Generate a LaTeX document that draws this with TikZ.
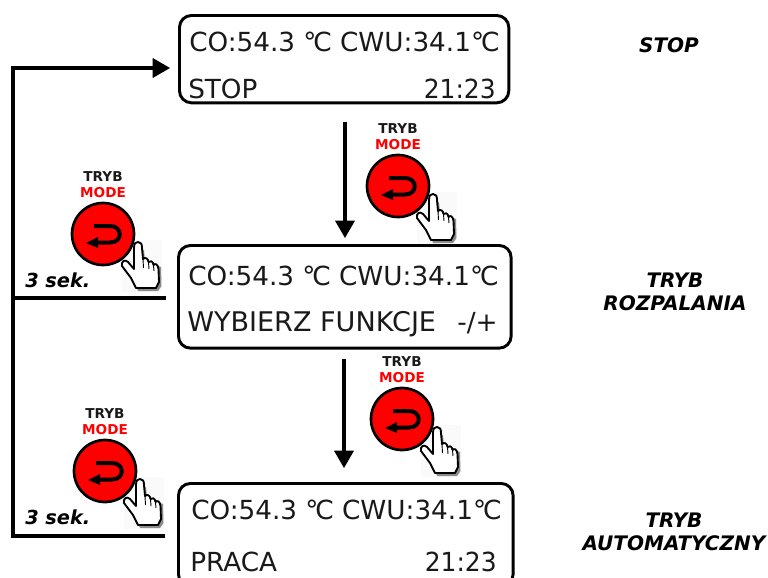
\documentclass[tikz,border=0pt]{standalone}
\usepackage{fontspec}
\setmainfont{DejaVu Sans}
\usetikzlibrary{arrows.meta}
\tikzset{
  lcd/.style={draw=black,line width=2.2pt,rounded corners=9pt,fill=white,inner sep=0pt,anchor=north west},
  lcdtext/.style={inner sep=0pt,font=\fontsize{19.7}{21}\selectfont,text=black!90},
  modetext/.style={inner sep=0pt,font=\fontsize{10.2}{11}\selectfont\bfseries},
  sidetext/.style={inner sep=0pt,align=center,font=\fontsize{15}{17.5}\selectfont\bfseries\itshape},
  secs/.style={inner sep=0pt,anchor=base west,font=\fontsize{14.5}{16}\selectfont\bfseries\itshape},
  flow/.style={draw=black,line width=3pt},
  flowarrow/.style={flow,-{Triangle[length=13pt,width=15pt,line width=0pt]}},
  pics/modebutton/.style={code={
    \fill[black!2] (19,6) rectangle (59,58);
    \fill[black!45] (33,16) -- (41,16) -- (42,27) -- (58,33) -- (58.5,52) -- (55,57) -- (35,57) -- (30,40) -- cycle;
    \filldraw[fill=white,draw=black,line width=1.4pt,line join=round]
      (31,14) .. controls (31,9) and (33,8) .. (35,8)
      .. controls (38,8) and (39,10) .. (39,14) -- (40,25)
      .. controls (42,23) and (45,24) .. (45.5,28)
      .. controls (47,26) and (50,27) .. (50.5,31)
      .. controls (52,29) and (55,30) .. (55.5,35)
      -- (56,48) -- (53,54) -- (33,54) -- (28,44) -- (19,32)
      .. controls (18,27) and (22,25) .. (25,28)
      -- (31,35) -- cycle;
    \draw[black,line width=.7pt] (40,25) -- (40.5,34) (45.5,28) -- (46,35) (50.5,31) -- (51,37);
    \filldraw[fill=red,draw=black,line width=2pt] (0,0) circle (31);
    \draw[black,line width=3pt] (-9,-8) -- (7,-8) .. controls (20,-8) and (20,8.5) .. (7,8.5) -- (-7,8.5);
    \fill[black] (-17,9) -- (-5,3) -- (-5,14) -- cycle;
    \node[modetext,text=black!90] at (0,-57) {TRYB};
    \node[modetext,text=red] at (0,-41) {MODE};
  }}
}
\newcommand{\degc}{°\kern-0.12em C}
\begin{document}
\begin{tikzpicture}[x=0.75pt,y=-0.75pt]
\useasboundingbox (0,0) rectangle (768,578);
\fill[white] (0,0) rectangle (768,578);
% displays
\node[lcd,minimum width=247pt,minimum height=65.5pt] (boxa) at (178,14) {};
\node[lcd,minimum width=249.5pt,minimum height=77pt] (boxb) at (177,244) {};
\node[lcd,minimum width=251pt,minimum height=77pt] (boxc) at (177,482) {};
\node[lcdtext,anchor=base west] (a1) at (189,51) {CO:54.3 \degc{} CWU:34.1\degc};
\node[lcdtext,anchor=base west] (a2) at (188,98) {STOP};
\node[lcdtext,anchor=base east,xscale=.95] (a3) at (496,98) {21:23};
\node[lcdtext,anchor=base west] (b1) at (188,285) {CO:54.3 \degc{} CWU:34.1\degc};
\node[lcdtext,anchor=base west,font=\fontsize{20.3}{21}\selectfont] (b2) at (187,331) {WYBIERZ FUNKCJE};
\node[lcdtext,anchor=base east] (b3) at (498,331) {-/+};
\node[lcdtext,anchor=base west] (c1) at (191,519) {CO:54.3 \degc{} CWU:34.1\degc};
\node[lcdtext,anchor=base west] (c2) at (190,571) {PRACA};
\node[lcdtext,anchor=base east,xscale=.95] (c3) at (497,571) {21:23};
% side labels
\node[sidetext] (s1) at (669,45) {STOP};
\node[sidetext] (s2) at (675,292) {TRYB\\ROZPALANIA};
\node[sidetext] (s3) at (674,532) {TRYB\\AUTOMATYCZNY};
% flow
\coordinate (corner) at (13,68);
\coordinate (bar1l) at (13,298);
\coordinate (bar1r) at (166,298);
\coordinate (bar2l) at (11,536);
\coordinate (bar2r) at (165,536);
\coordinate (ah) at (170,68);
\coordinate (d1s) at (345,122);
\coordinate (d1e) at (345,238);
\coordinate (d2s) at (344,359);
\coordinate (d2e) at (344,468);
\draw[flow] (bar2l) ++(2,0) -- (corner);
\draw[flowarrow] ([xshift=-1.5pt]corner) -- (ah);
\draw[flow] (bar1l) -- (bar1r);
\draw[flow] (bar2l) -- (bar2r);
\draw[flowarrow] (d1s) -- (d1e);
\draw[flowarrow] (d2s) -- (d2e);
% buttons
\pic at (103,234) {modebutton};
\pic at (398,186) {modebutton};
\pic at (402,419) {modebutton};
\pic at (105,471) {modebutton};
\node[secs] (t1) at (25,287) {3 sek.};
\node[secs] (t2) at (25,524) {3 sek.};
\end{tikzpicture}
\end{document}
